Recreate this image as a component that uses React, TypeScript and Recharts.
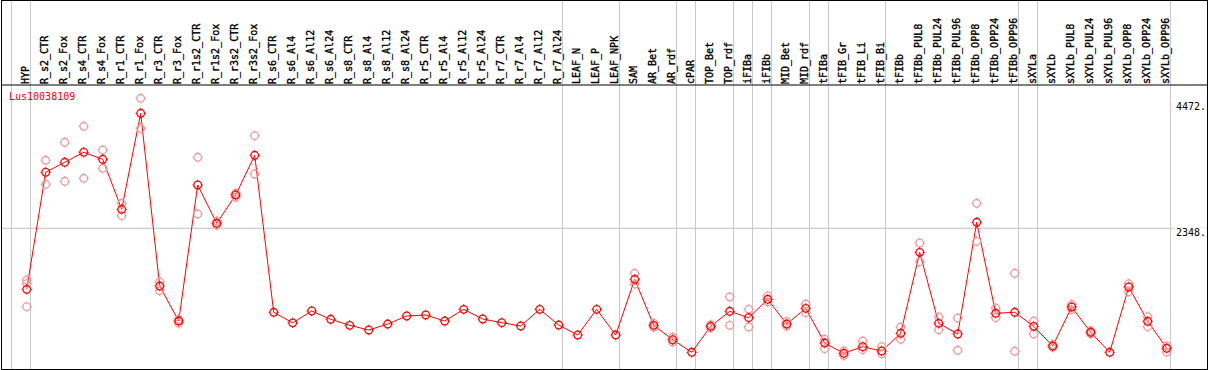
import { LineChart, Line, XAxis, YAxis, ReferenceLine } from 'recharts';

const GENE = 'Lus10038109';

const CATEGORIES = [
  'HYP', 'R_s2_CTR', 'R_s2_Fox', 'R_s4_CTR', 'R_s4_Fox', 'R_r1_CTR', 'R_r1_Fox', 'R_r3_CTR', 'R_r3_Fox',
  'R_r1s2_CTR', 'R_r1s2_Fox', 'R_r3s2_CTR', 'R_r3s2_Fox', 'R_s6_CTR', 'R_s6_Al4', 'R_s6_Al12', 'R_s6_Al24',
  'R_s8_CTR', 'R_s8_Al4', 'R_s8_Al12', 'R_s8_Al24', 'R_r5_CTR', 'R_r5_Al4', 'R_r5_Al12', 'R_r5_Al24',
  'R_r7_CTR', 'R_r7_Al4', 'R_r7_Al12', 'R_r7_Al24', 'LEAF_N', 'LEAF_P', 'LEAF_NPK', 'SAM', 'AR_Bet', 'AR_rdf',
  'cPAR', 'TOP_Bet', 'TOP_rdf', 'iFIBa', 'iFIBb', 'MID_Bet', 'MID_rdf', 'tFIBa', 'tFIB_Gr', 'tFIB_Li', 'tFIB_Bi',
  'tFIBb', 'tFIBb_PUL8', 'tFIBb_PUL24', 'tFIBb_PUL96', 'tFIBb_OPP8', 'tFIBb_OPP24', 'tFIBb_OPP96',
  'sXYLa', 'sXYLb', 'sXYLb_PUL8', 'sXYLb_PUL24', 'sXYLb_PUL96', 'sXYLb_OPP8', 'sXYLb_OPP24', 'sXYLb_OPP96',
];

// mean expression per sample
const MEAN = [
  1313, 3297, 3466, 3636, 3517, 2669, 4296, 1369, 776,
  3081, 2432, 2912, 3585, 924, 745, 946, 805,
  703, 624, 725, 861, 878, 776, 974, 810,
  748, 692, 974, 708, 539, 974, 539, 1483, 703, 459,
  246, 686, 941, 832, 1144, 725, 991, 403, 229, 341, 268,
  568, 1940, 737, 556, 2449, 907, 924,
  686, 352, 1014, 585, 246, 1353, 771, 314,
];

// replicates (null where they sit under the mean)
const REP1 = [
  1470, 3500, 3805, 4076, 3675, 2771, 4551, 1443, 805,
  3551, 2470, 2941, 3917, null, null, null, null,
  null, null, null, null, null, null, null, null,
  null, null, null, null, null, null, null, 1585, 740, 500,
  null, 715, 1183, 974, 1200, 770, 1064, 466, 270, 437, 341,
  675, 2098, 844, 827, 2771, 997, 1585,
  776, 380, 1059, 610, null, 1408, 849, 353,
];
const REP2 = [
  1410, 3093, 3144, 3195, 3364, 2561, 4042, 1290, 737,
  2590, 2400, 2873, 3268, null, null, null, null,
  null, null, null, null, null, null, null, null,
  null, null, null, null, null, null, null, 1403, 670, 420,
  null, 660, 703, 675, 1100, 690, 917, 307, 190, 290, 220,
  466, 1781, 629, 280, 2127, 832, 263,
  556, 330, 970, 560, null, 1273, 680, 251,
];
const REP3 = [1020];

// last sample index of each group (-1 = before the first)
const GROUP_ENDS = [-1, 0, 28, 31, 34, 35, 37, 38, 39, 41, 42, 45, 52, 53, 60];

const Y_TICKS = [0, 2348, 4472];
const Y_DOMAIN = [-37, 4776];
const Y_TOP = 6217; // value at the very top of the header

const data = CATEGORIES.map((name, i) => ({
  i,
  name,
  mean: MEAN[i],
  rep1: REP1[i] ?? null,
  rep2: REP2[i] ?? null,
  rep3: REP3[i] ?? null,
}));

const FONT = '"DejaVu Sans Mono", monospace';

function Ring({ cx, cy, color }: any) {
  if (cx == null || cy == null) return <g />;
  return (
    <g stroke={color} fill="none">
      <circle cx={cx} cy={cy} r={3.8} strokeWidth={1.3} />
      <path
        d={`M${cx} ${cy - 5.2}V${cy - 3.8}M${cx} ${cy + 3.8}V${cy + 5.2}M${cx - 5.2} ${cy}H${cx - 3.8}M${cx + 3.8} ${cy}H${cx + 5.2}`}
        strokeWidth={1}
      />
    </g>
  );
}

function XTick({ x, payload }: any) {
  const tx = Math.round(x + 2.6) + 0.2;
  return (
    <text
      x={tx}
      y={84}
      transform={`rotate(-90 ${tx} 84)`}
      fontFamily={FONT}
      fontSize={10}
      fill="#000"
      stroke="#000"
      strokeWidth={0.35}
      textAnchor="start"
    >
      {CATEGORIES[payload.value]}
    </text>
  );
}

function YTick({ y, payload }: any) {
  const label = payload.value === 0 ? '0' : `${payload.value}.`;
  const base = Math.min(y + 7.5, 366);
  return (
    <g>
      <rect x={1174} y={base - 8} width={label.length * 6 + 2} height={9} fill="#fff" />
      <text x={1176} y={base} fontFamily={FONT} fontSize={10} fill="#000" textAnchor="start">
        {label}
      </text>
    </g>
  );
}

export default function App() {
  return (
    <div style={{ position: 'absolute', left: 0, top: 0, width: 1209, height: 370, background: '#fff' }}>
      <LineChart width={1209} height={370} data={data} margin={{ top: 0, right: 2, bottom: 1, left: 2 }}>
        <XAxis
          dataKey="i"
          type="number"
          orientation="top"
          height={85}
          domain={[-1.3, 62.12]}
          allowDataOverflow
          ticks={data.map((d) => d.i)}
          interval={0}
          tickLine={false}
          axisLine={{ stroke: '#000' }}
          tick={<XTick />}
        />
        <YAxis
          type="number"
          orientation="right"
          mirror
          domain={Y_DOMAIN}
          allowDataOverflow
          ticks={Y_TICKS}
          axisLine={false}
          tickLine={false}
          tick={<YTick />}
        />
        <ReferenceLine y={2348} stroke="#c0c0c0" />
        {GROUP_ENDS.map((g) => (
          <ReferenceLine
            key={g}
            segment={[{ x: g + 0.2, y: Y_DOMAIN[0] }, { x: g + 0.2, y: Y_TOP }]}
            ifOverflow="visible"
            stroke="#c8c8c8"
          />
        ))}
        {['rep1', 'rep2', 'rep3'].map((k) => (
          <Line
            key={k}
            dataKey={k}
            stroke="none"
            isAnimationActive={false}
            activeDot={false}
            dot={(p: any) => <Ring key={p.index} cx={p.cx} cy={p.value == null ? null : p.cy} color="#ee9a9a" />}
          />
        ))}
        <Line
          dataKey="mean"
          stroke="#ff0000"
          strokeWidth={1}
          isAnimationActive={false}
          activeDot={false}
          dot={(p: any) => <Ring key={p.index} cx={p.cx} cy={p.cy} color="#ff0000" />}
        />
      </LineChart>
      <div
        style={{
          position: 'absolute',
          left: 1,
          top: 0,
          width: 1207,
          height: 370,
          border: '1px solid #000',
          boxSizing: 'border-box',
          pointerEvents: 'none',
        }}
      />
      <div
        style={{
          position: 'absolute',
          left: 9,
          top: 92,
          fontFamily: FONT,
          fontSize: 10,
          lineHeight: '10px',
          color: '#ff0000',
        }}
      >
        {GENE}
      </div>
    </div>
  );
}
